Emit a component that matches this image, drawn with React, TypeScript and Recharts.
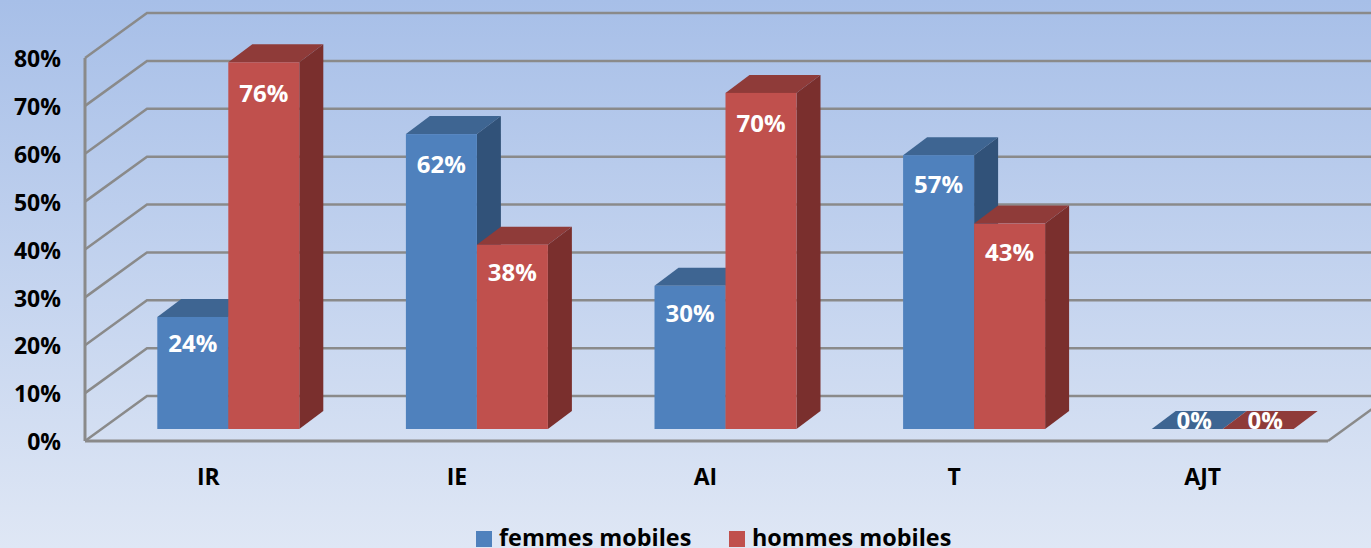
import { BarChart, Bar, XAxis, YAxis, CartesianGrid, Legend, LabelList } from 'recharts';

const categories = ['IR', 'IE', 'AI', 'T', 'AJT'];
// bar heights as measured on the picture, the printed labels are rounded differently
const femmesMobiles = [23.4, 61.6, 29.9, 57.2, 0];
const hommesMobiles = [76.6, 38.5, 70.2, 42.9, 0];
const femmesLabels = [24, 62, 30, 57, 0];
const hommesLabels = [76, 38, 70, 43, 0];
const yTicks = [0, 10, 20, 30, 40, 50, 60, 70, 80];

const chartData = categories.map((name, i) => ({
  name,
  femmes: femmesMobiles[i],
  hommes: hommesMobiles[i],
  femmesLabel: femmesLabels[i],
  hommesLabel: hommesLabels[i],
}));

const FONT = '"Open Sans", sans-serif';
const GRID = '#8a8a8a';
const WALL_X = 62;
const WALL_Y = 45;
const BAR_SHIFT_X = 19;
const BAR_SHIFT_Y = 12;
const DEPTH_X = 24;
const DEPTH_Y = 18;
const FLOOR_Y = 441;

const box3d = (front: string, top: string, side: string) => (props: any) => {
  const { x, y, width, height } = props;
  const l = x + BAR_SHIFT_X;
  const r = l + width;
  const t = y - BAR_SHIFT_Y;
  const b = t + height;
  return (
    <g>
      <polygon points={`${l},${t} ${l + DEPTH_X},${t - DEPTH_Y} ${r + DEPTH_X},${t - DEPTH_Y} ${r},${t}`} fill={top} />
      {height > 0 && (
        <>
          <polygon points={`${r},${t} ${r + DEPTH_X},${t - DEPTH_Y} ${r + DEPTH_X},${b - DEPTH_Y} ${r},${b}`} fill={side} />
          <rect x={l} y={t} width={width} height={height} fill={front} />
        </>
      )}
    </g>
  );
};

const barLabel = (props: any) => {
  const { x, y, width, value } = props;
  const cx = x + BAR_SHIFT_X + width / 2 + (value === 0 ? 7 : 0);
  const cy = value === 0 ? y - BAR_SHIFT_Y - 10 : y - BAR_SHIFT_Y + 24 + value * 0.08;
  return (
    <text
      x={cx}
      y={cy}
      fill="#fff"
      fontFamily={FONT}
      fontWeight={700}
      fontSize={24}
      textAnchor="middle"
      dominantBaseline="central"
    >
      {`${value}%`}
    </text>
  );
};

const gridLine = (props: any) => {
  const { x1, y1, x2 } = props;
  const onFloor = Math.abs(y1 - FLOOR_Y) < 1;
  return (
    <g key={props.key}>
      <path d={`M${x1},${y1} L${x1 + WALL_X},${y1 - WALL_Y} H1380`} fill="none" stroke={GRID} strokeWidth={2.5} />
      {onFloor && <path d={`M${x2},${y1} L${x2 + WALL_X},${y1 - WALL_Y}`} fill="none" stroke={GRID} strokeWidth={2.5} />}
    </g>
  );
};

const legendText = { position: 'absolute', top: 18, lineHeight: '22px', whiteSpace: 'nowrap' } as const;

const legendContent = () => (
  <div style={{ position: 'relative', height: 40, fontFamily: FONT, fontWeight: 700, fontSize: 23.4, color: '#000' }}>
    <span style={{ position: 'absolute', left: 476, top: 23, width: 16, height: 16, background: '#4f81bd' }} />
    <span style={{ ...legendText, left: 499 }}>femmes mobiles</span>
    <span style={{ position: 'absolute', left: 729, top: 23, width: 16, height: 16, background: '#c0504d' }} />
    <span style={{ ...legendText, left: 752 }}>hommes mobiles</span>
  </div>
);

export default function App() {
  const tickStyle = { fill: '#000', fontFamily: FONT, fontWeight: 700, fontSize: 23 };
  return (
    <div
      style={{
        position: 'fixed',
        left: 0,
        top: 0,
        width: 1371,
        height: 548,
        overflow: 'hidden',
        background: 'linear-gradient(180deg, #a7bfe8 0%, #dfe7f5 100%)',
      }}
    >
      <BarChart
        width={1371}
        height={548}
        data={chartData}
        margin={{ top: 58, right: 43, bottom: 20, left: 25 }}
        barGap={0}
        barCategoryGap={53.3}
      >
        <CartesianGrid horizontal={gridLine} vertical={false} fill="none" />
        <XAxis
          dataKey="name"
          height={47}
          tick={{ ...tickStyle, dx: -1 }}
          tickLine={false}
          tickMargin={22}
          axisLine={{ stroke: GRID, strokeWidth: 3 }}
        />
        <YAxis
          width={60}
          domain={[0, 80]}
          ticks={yTicks}
          interval={0}
          tick={{ ...tickStyle, dy: 1 }}
          tickFormatter={(v) => `${v}%`}
          tickLine={false}
          tickMargin={18}
          axisLine={{ stroke: GRID, strokeWidth: 3 }}
        />
        <Legend verticalAlign="bottom" height={40} content={legendContent} wrapperStyle={{ left: 0, width: 1371, bottom: 0 }} />
        <Bar dataKey="femmes" name="femmes mobiles" isAnimationActive={false} shape={box3d('#4f81bd', '#3e6592', '#315279')}>
          <LabelList dataKey="femmesLabel" content={barLabel} />
        </Bar>
        <Bar dataKey="hommes" name="hommes mobiles" isAnimationActive={false} shape={box3d('#c0504d', '#8f3b39', '#7a2f2d')}>
          <LabelList dataKey="hommesLabel" content={barLabel} />
        </Bar>
      </BarChart>
    </div>
  );
}
